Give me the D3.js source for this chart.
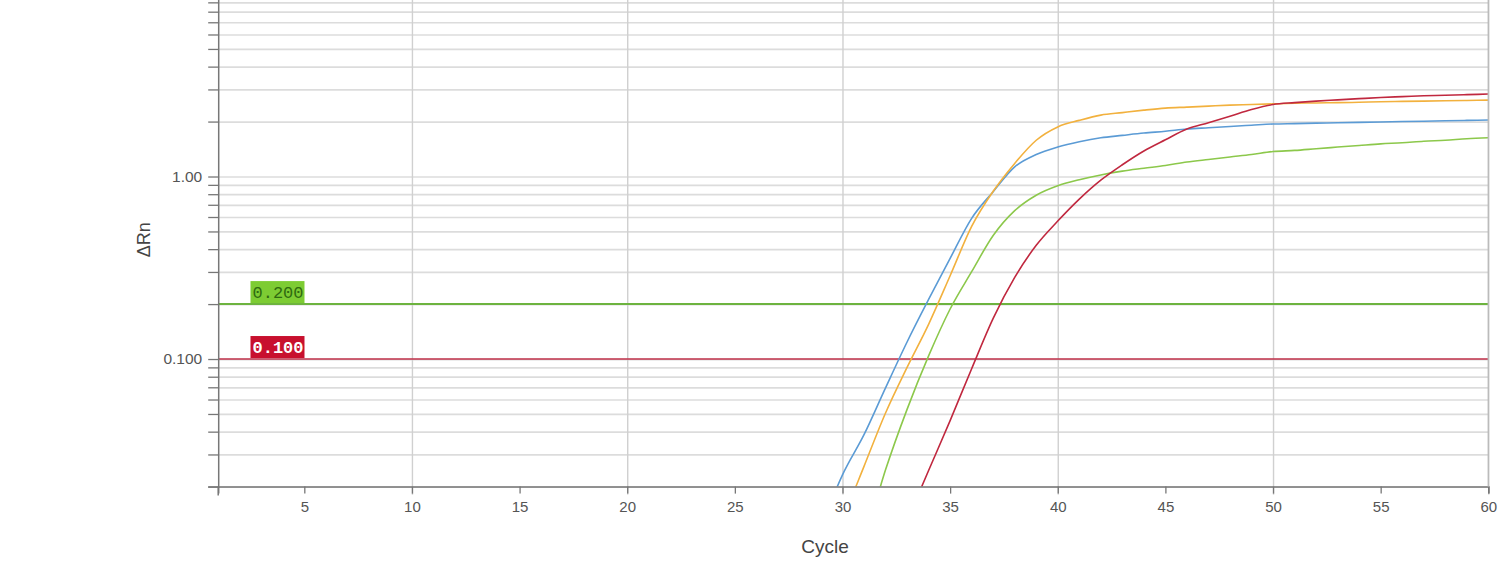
<!DOCTYPE html>
<html>
<head>
<meta charset="utf-8">
<script src="https://cdn.jsdelivr.net/npm/d3@7"></script>
<style>
  html, body { margin: 0; padding: 0; background: #fff; overflow: hidden; }
  svg { display: block; font-family: "Liberation Sans", Arial, sans-serif; }
</style>
</head>
<body>
<svg id="chart"></svg>
<script>
// amplification data, one value per cycle (29..60)
const cycles = d3.range(29, 61);
const blueValues = [0.012, 0.0232, 0.0385, 0.0695, 0.124, 0.212, 0.356, 0.59, 0.826, 1.13, 1.32, 1.45, 1.55, 1.63, 1.68, 1.73, 1.77, 1.82, 1.85, 1.88, 1.91, 1.94, 1.95, 1.96, 1.97, 1.98, 1.99, 2.00, 2.01, 2.02, 2.03, 2.04];
const orangeValues = [0.006, 0.013, 0.0258, 0.0506, 0.090, 0.155, 0.286, 0.533, 0.83, 1.18, 1.58, 1.87, 2.03, 2.17, 2.24, 2.31, 2.37, 2.40, 2.43, 2.46, 2.48, 2.50, 2.52, 2.53, 2.54, 2.55, 2.57, 2.58, 2.59, 2.60, 2.61, 2.62];
const greenValues = [0.003, 0.005, 0.010, 0.0247, 0.053, 0.104, 0.188, 0.301, 0.475, 0.65, 0.79, 0.89, 0.96, 1.02, 1.07, 1.11, 1.15, 1.20, 1.24, 1.28, 1.32, 1.37, 1.39, 1.42, 1.45, 1.48, 1.51, 1.53, 1.56, 1.58, 1.61, 1.63];
const redValues = [0.001, 0.002, 0.004, 0.007, 0.013, 0.0245, 0.046, 0.0885, 0.167, 0.28, 0.42, 0.57, 0.752, 0.955, 1.16, 1.38, 1.59, 1.82, 1.97, 2.14, 2.33, 2.48, 2.54, 2.59, 2.63, 2.67, 2.71, 2.74, 2.77, 2.79, 2.81, 2.83];

const seriesNames = ['blue', 'orange', 'green', 'red'];
const seriesColors = ['#5b9bd5', '#f2b13e', '#8cc84b', '#c0283f'];

// thresholds
const thresholdValues = [0.2, 0.1];
const thresholdLabels = ['0.200', '0.100'];

const xTicks = [5, 10, 15, 20, 25, 30, 35, 40, 45, 50, 55, 60];
const xGridTicks = [10, 20, 30, 40, 50, 60];
const yMajor = [0.1, 1, 10];
const yLabels = ['0.100', '1.00', '10.0'];

const width = 1508, height = 561;
const svg = d3.select('#chart').attr('width', width).attr('height', height);

const x = d3.scaleLinear().domain([1, 60]).range([218.2, 1488.3]);
const y = d3.scaleLog().domain([0.02, 10]).range([486.6, -6]);

// all log ticks 0.02..10
const yAll = [];
[0.01, 0.1, 1].forEach(d => { for (let k = 1; k <= 9; k++) { const v = +(d * k).toPrecision(3); if (v >= 0.02 && v <= 10) yAll.push(v); } });
yAll.push(10);

// title fragment (cut off at top)
svg.append('text')
  .attr('x', 22).attr('y', -3)
  .attr('fill', '#3f7fc7')
  .attr('font-size', 17)
  .text('Amplification Plot');

// horizontal grid
svg.append('g')
  .attr('transform', `translate(${x(1)},0)`)
  .call(d3.axisLeft(y).tickValues(yAll).tickSize(-(x(60) - x(1))).tickFormat(''))
  .call(g => g.select('.domain').remove())
  .call(g => g.selectAll('line').attr('stroke', '#dcdcdc').attr('stroke-width', 1.7));

// vertical grid
svg.append('g')
  .attr('transform', `translate(0,${y(0.02)})`)
  .call(d3.axisBottom(x).tickValues(xGridTicks).tickSize(-(y(0.02) - y(10)) ).tickFormat(''))
  .call(g => g.select('.domain').remove())
  .call(g => g.selectAll('line').attr('stroke', '#d0d0d0').attr('stroke-width', 1.4));

// grid lines extend slightly below axis at 10, 20, ...
svg.append('g')
  .attr('transform', `translate(0,${y(0.02)})`)
  .call(d3.axisBottom(x).tickValues(xGridTicks).tickSize(8).tickFormat(''))
  .call(g => g.select('.domain').remove())
  .call(g => g.selectAll('line').attr('stroke', '#c8c8c8').attr('stroke-width', 1.4));

// threshold lines
const thrColors = ['#6db33f', '#c0304a'];
const thrWidths = [2, 1.5];
thresholdValues.forEach((v, i) => {
  svg.append('line')
    .attr('x1', x(1)).attr('x2', x(60))
    .attr('y1', y(v)).attr('y2', y(v))
    .attr('stroke', thrColors[i]).attr('stroke-width', thrWidths[i]);
});

// curves
svg.append('clipPath').attr('id', 'plotclip')
  .append('rect').attr('x', x(1)).attr('y', 0)
  .attr('width', x(60) - x(1)).attr('height', y(0.02));

const allSeries = [blueValues, orangeValues, greenValues, redValues];
const line = d3.line()
  .x((d, i) => x(cycles[i]))
  .y(d => y(d))
  .curve(d3.curveMonotoneX);

svg.append('g').attr('clip-path', 'url(#plotclip)')
  .selectAll('path')
  .data(allSeries)
  .join('path')
  .attr('fill', 'none')
  .attr('stroke', (d, i) => seriesColors[i])
  .attr('stroke-width', 1.6)
  .attr('d', line);

// threshold labels
const boxFill = ['#7dcc33', '#c8102e'];
const boxText = ['#2f6a10', '#ffffff'];
thresholdValues.forEach((v, i) => {
  const g = svg.append('g').attr('transform', `translate(${x(2.5)},${y(v) - 23})`);
  g.append('rect').attr('width', 54).attr('height', 22).attr('fill', boxFill[i]);
  g.append('text')
    .attr('x', 2).attr('y', 17)
    .attr('font-family', '"Liberation Mono", "DejaVu Sans Mono", monospace')
    .attr('font-size', 17)
    .attr('font-weight', i === 1 ? 'bold' : 'normal')
    .attr('fill', boxText[i])
    .text(thresholdLabels[i]);
});

// y axis
svg.append('g')
  .attr('transform', `translate(${x(1)},0)`)
  .call(d3.axisLeft(y).tickValues(yAll).tickSize(10).tickPadding(6)
    .tickFormat(d => { const k = yMajor.indexOf(d); return k >= 0 ? yLabels[k] : ''; }))
  .call(g => g.select('.domain').attr('stroke', '#777').attr('stroke-width', 1.5))
  .call(g => g.selectAll('line').attr('stroke', '#777').attr('stroke-width', 1.3))
  .call(g => g.selectAll('text').attr('font-size', 15.5).attr('fill', '#555')
    .attr('font-family', '"Liberation Sans", Arial, sans-serif'));

// x axis
svg.append('g')
  .attr('transform', `translate(0,${y(0.02)})`)
  .call(d3.axisBottom(x).tickValues(xTicks).tickSize(7).tickPadding(8))
  .call(g => g.select('.domain').attr('stroke', '#777').attr('stroke-width', 1.5))
  .call(g => g.selectAll('line').attr('stroke', '#777').attr('stroke-width', 1.3))
  .call(g => g.selectAll('text').attr('font-size', 15).attr('fill', '#555')
    .attr('font-family', '"Liberation Sans", Arial, sans-serif'));

// left tick crossing at cycle 1
svg.append('line')
  .attr('x1', x(1)).attr('x2', x(1))
  .attr('y1', y(0.02)).attr('y2', y(0.02) + 9)
  .attr('stroke', '#777').attr('stroke-width', 1.5);
// right border
svg.append('line')
  .attr('x1', x(60)).attr('x2', x(60))
  .attr('y1', y(10)).attr('y2', y(0.02))
  .attr('stroke', '#bbb').attr('stroke-width', 1.4);

// axis titles
svg.append('text')
  .attr('transform', `translate(150,${y(0.45)}) rotate(-90)`)
  .attr('text-anchor', 'middle')
  .attr('font-size', 18).attr('fill', '#444')
  .text('ΔRn');

svg.append('text')
  .attr('x', 825).attr('y', 553)
  .attr('text-anchor', 'middle')
  .attr('font-size', 19).attr('fill', '#444')
  .text('Cycle');
</script>
</body>
</html>
